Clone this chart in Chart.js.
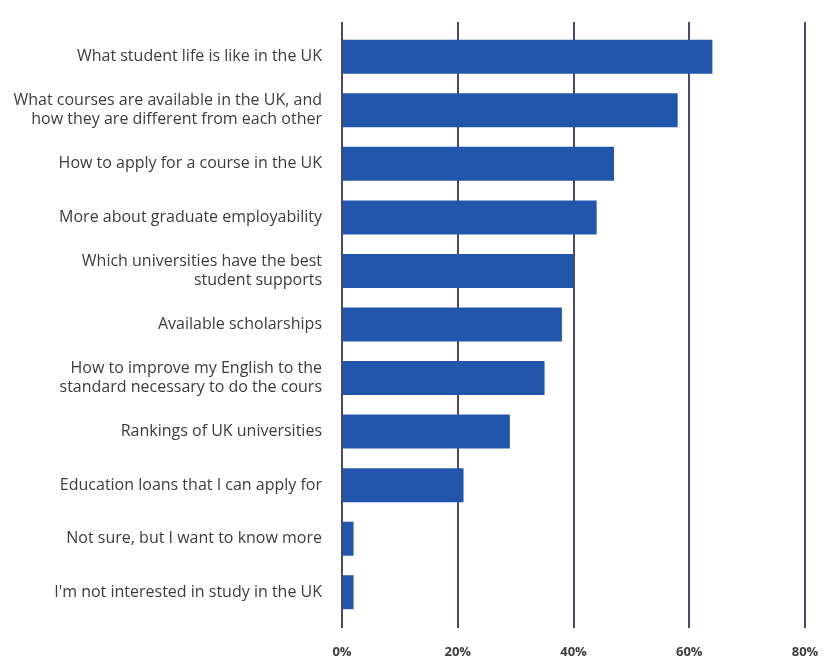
<!DOCTYPE html>
<html>
<head>
<meta charset="utf-8">
<script src="https://cdn.jsdelivr.net/npm/chart.js@4/dist/chart.umd.min.js"></script>
<style>
  html, body { margin: 0; padding: 0; background: #fff; }
  #wrap { width: 825px; height: 662px; position: relative; }
</style>
</head>
<body>
<div id="wrap"><canvas id="topicChart"></canvas></div>
<script>
const topics = [
  "What student life is like in the UK",
  ["What courses are available in the UK, and", "how they are different from each other"],
  "How to apply for a course in the UK",
  "More about graduate employability",
  ["Which universities have the best", "student supports"],
  "Available scholarships",
  ["How to improve my English to the", "standard necessary to do the cours"],
  "Rankings of UK universities",
  "Education loans that I can apply for",
  "Not sure, but I want to know more",
  "I'm not interested in study in the UK"
];
const shares = [64, 58, 47, 44, 40, 38, 35, 29, 21, 2, 2];
const percentTicks = [0, 20, 40, 60, 80];

const gridColor = "#4a4770";
const textColor = "#3c3c3c";

document.addEventListener("DOMContentLoaded", () => {
  renderTopicChart();
});

function renderTopicChart() {
  const ctx = document.getElementById("topicChart");
  if (!ctx) return;

  const percentAxis = {
    type: "linear",
    min: percentTicks[0],
    max: percentTicks[percentTicks.length - 1],
    afterBuildTicks: (scale) => {
      scale.ticks = percentTicks.map(v => ({ value: v }));
    },
    border: { display: false },
  };

  new Chart(ctx, {
    type: "bar",
    data: {
      labels: topics,
      datasets: [{
        data: shares,
        backgroundColor: "#2256ad",
        borderWidth: 0,
        categoryPercentage: 1,
        barPercentage: 0.635,
        xAxisID: "x",
      }],
    },
    options: {
      indexAxis: "y",
      responsive: true,
      maintainAspectRatio: false,
      animation: false,
      layout: { padding: { top: 22, right: 20, bottom: 2, left: 0 } },
      plugins: {
        legend: { display: false },
        tooltip: { enabled: false },
      },
      scales: {
        x: {
          ...percentAxis,
          position: "bottom",
          afterFit: (scale) => {
            scale.height = 41;
            scale.paddingLeft = 0;
            scale.paddingRight = 0;
          },
          grid: { color: gridColor, lineWidth: 2, drawTicks: true, tickLength: 9 },
          ticks: {
            color: textColor,
            font: { family: "'Open Sans', sans-serif", size: 13, weight: "bold" },
            padding: 16,
            callback: (v) => v + "%",
          },
        },
        xTop: {
          ...percentAxis,
          position: "top",
          grid: { color: gridColor, lineWidth: 2, drawOnChartArea: false, drawTicks: true, tickLength: 8 },
          ticks: { display: false },
        },
        y: {
          grid: { display: false, drawTicks: false },
          border: { display: false },
          afterFit: (scale) => { scale.width = 342; },
          ticks: {
            color: textColor,
            padding: 20,
            font: { family: "'Open Sans', sans-serif", size: 16, lineHeight: 1.2 },
          },
        },
      },
    },
  });
}
</script>
</body>
</html>
